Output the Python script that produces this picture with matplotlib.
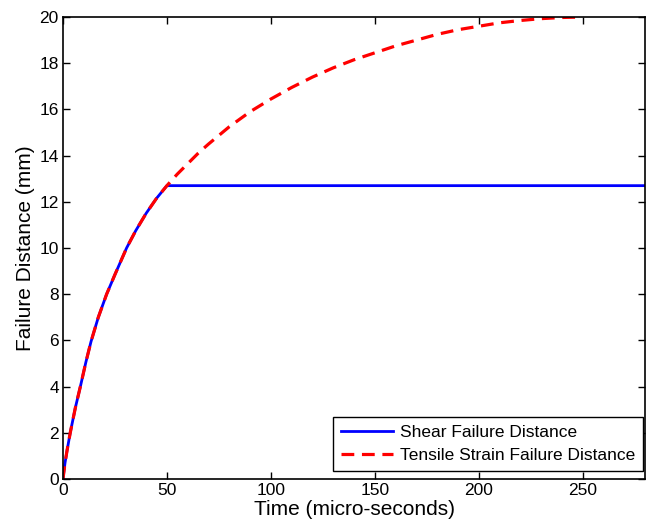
import numpy as np
import matplotlib
matplotlib.use('Agg')
import matplotlib.pyplot as plt

plt.rcParams['font.family'] = ['Liberation Sans', 'DejaVu Sans']

# 데이터
rise_t = [0, 1, 2, 3.5, 6, 8.5, 11, 13.5, 17, 21, 25, 30.6, 35, 40, 45, 50]
rise_mm = [0, 0.7, 1.25, 2.0, 3.1, 4.05, 5.05, 5.95, 7.0, 8.0, 8.85, 10.0, 10.75, 11.5, 12.15, 12.7]
tail_t = [55, 60, 65, 70, 80, 90, 100, 110, 120, 130, 140, 150, 160, 170, 180,
          190, 200, 210, 220, 230, 240, 250]
tail_mm = [13.2, 13.65, 14.1, 14.5, 15.25, 15.9, 16.45, 16.95, 17.4, 17.8, 18.15, 18.45,
           18.75, 19.0, 19.25, 19.45, 19.6, 19.75, 19.85, 19.93, 19.98, 20.0]

tensile_t = rise_t + tail_t
tensile_mm = rise_mm + tail_mm
shear_t = rise_t + [280]
shear_mm = rise_mm + [12.7]

fig = plt.figure(figsize=(6.49, 5.32), dpi=100)
ax = fig.add_axes([0.097, 0.0996, 0.897, 0.8684])

ax.plot(shear_t, shear_mm, color='#0000ff', linewidth=2, label='Shear Failure Distance')
ax.plot(tensile_t, tensile_mm, color='#ff0000', linewidth=2.3, dashes=[4.0, 2.4],
        label='Tensile Strain Failure Distance')

ax.set_xlim(0, 280)
ax.set_ylim(0, 20)
ax.set_xticks([0, 50, 100, 150, 200, 250])
ax.set_yticks(np.arange(0, 21, 2))
ax.tick_params(direction='in', top=True, right=True, labelsize=12.5, length=5, width=1, pad=3)
for s in ax.spines.values():
    s.set_linewidth(1.2)

ax.set_xlabel('Time (micro-seconds)', fontsize=15, labelpad=1)
ax.set_ylabel('Failure Distance (mm)', fontsize=15, labelpad=3)

leg = ax.legend(loc='lower right', bbox_to_anchor=(0.997, 0.017), fontsize=12.5,
                fancybox=False, framealpha=1, edgecolor='black', handlelength=3.0,
                borderaxespad=0.0, borderpad=0.45, labelspacing=0.45, handletextpad=0.4)
leg.get_frame().set_linewidth(1.0)

fig.savefig('out.png', dpi=100)
plt.close()
